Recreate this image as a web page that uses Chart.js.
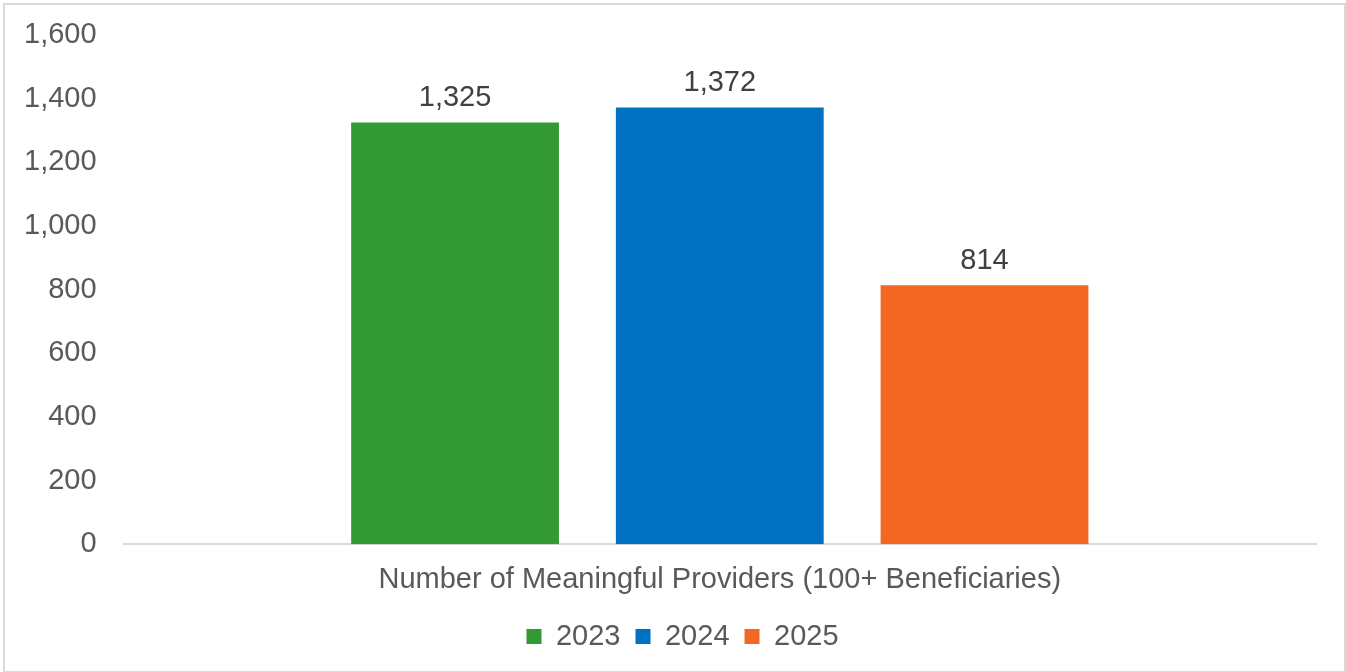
<!DOCTYPE html>
<html>
<head>
<meta charset="utf-8">
<script src="https://cdn.jsdelivr.net/npm/chart.js@4"></script>
<style>
  body { margin: 0; background: #fff; }
  #wrap { position: absolute; left: 3px; top: 3px; width: 1339px; height: 666px; border: 2px solid #D9D9D9; }
</style>
</head>
<body>
<div id="wrap"><canvas id="barChart"></canvas></div>
<script>
// --- datos del gráfico ---
const categorias = ['Number of Meaningful Providers (100+ Beneficiaries)'];
const anios = ['2023', '2024', '2025'];
const valores = [[1325], [1372], [814]];
const colores = ['#339933', '#0070C0', '#F26722'];

// etiquetas encima de las barras
const etiquetasBarras = {
    id: 'etiquetasBarras',
    afterDatasetsDraw(chart) {
        const c = chart.ctx;
        c.save();
        c.font = '29px "Liberation Sans", Arial, sans-serif';
        c.fillStyle = '#404040';
        c.textAlign = 'center';
        c.textBaseline = 'bottom';
        chart.data.datasets.forEach((ds, i) => {
            chart.getDatasetMeta(i).data.forEach((bar, j) => {
                c.fillText(ds.data[j].toLocaleString('en-US'), bar.x, bar.y - 10);
            });
        });
        c.restore();
    }
};

// la leyenda queda un poco a la derecha del centro
const moverLeyenda = {
    id: 'moverLeyenda',
    afterLayout(chart) {
        chart.legend.left += 22;
        chart.legend.right += 22;
    }
};

const ctx = document.getElementById('barChart').getContext('2d');
Chart.defaults.font.family = '"Liberation Sans", Arial, sans-serif';
Chart.defaults.color = '#595959';

new Chart(ctx, {
    type: 'bar',
    data: {
        labels: categorias,
        datasets: anios.map((a, i) => ({
            label: a,
            data: valores[i],
            backgroundColor: colores[i],
            categoryPercentage: 0.666,
            barPercentage: 0.785
        }))
    },
    options: {
        responsive: true,
        maintainAspectRatio: false,
        animation: false,
        layout: { padding: { top: 0, right: 28, left: 0, bottom: 10 } },
        scales: {
            y: {
                min: 0, max: 1600,
                ticks: { stepSize: 200, font: { size: 29 }, padding: 19,
                         callback: v => v.toLocaleString('en-US') },
                grid: { display: false },
                border: { display: false },
                afterFit: s => { s.paddingTop = 30; }
            },
            x: {
                ticks: { font: { size: 29 }, padding: 10 },
                grid: { display: false },
                border: { color: '#D9D9D9', width: 2 }
            }
        },
        plugins: {
            legend: {
                position: 'bottom',
                labels: { boxWidth: 15, boxHeight: 15, font: { size: 29 }, padding: 15 }
            },
            tooltip: { enabled: false }
        }
    },
    plugins: [etiquetasBarras, moverLeyenda]
});
</script>
</body>
</html>
